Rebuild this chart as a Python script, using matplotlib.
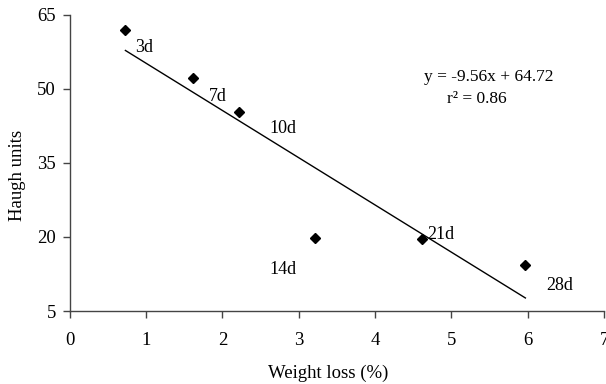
import numpy as np
import matplotlib
matplotlib.use("Agg")
import matplotlib.pyplot as plt

# Data
weight_loss = [0.73, 1.62, 2.22, 3.21, 4.62, 5.97]
haugh_units = [61.8, 52.2, 45.3, 19.8, 19.6, 14.3]
day_labels = ["3d", "7d", "10d", "14d", "21d", "28d"]
label_x = [0.86, 1.82, 2.62, 2.62, 4.69, 6.24]
label_y = [58.3, 48.4, 42.0, 13.5, 20.5, 10.1]

slope = -9.56
intercept = 64.72
r2 = 0.86

plt.rcParams['font.family'] = ['Liberation Serif', 'DejaVu Serif']
plt.rcParams['font.size'] = 13

fig = plt.figure(figsize=(6.06, 3.84), dpi=100)
ax = fig.add_axes([0.115, 0.19, 0.8817, 0.772])

ax.plot(weight_loss, haugh_units, linestyle='none', marker='D',
        markersize=4.8, color='black', clip_on=False)

# trend line over the data range
xl = np.array([min(weight_loss), max(weight_loss)])
ax.plot(xl, slope * xl + intercept, color='black', linewidth=1.0)

for lx, ly, t in zip(label_x, label_y, day_labels):
    ax.text(lx, ly, t, ha='left', va='center', fontsize=13)

ax.text(5.49, 52.3, f"y = {slope:.2f}x + {intercept:.2f}", ha='center', va='center', fontsize=12.5)
ax.text(5.33, 47.9, f"r² = {r2:.2f}", ha='center', va='center', fontsize=12.5)

ax.set_xlim(0, 7)
ax.set_ylim(5, 65)
ax.set_xticks(range(0, 8))
ax.set_yticks([5, 20, 35, 50, 65])
ax.set_xlabel("Weight loss (%)", fontsize=13.5, va='center')
ax.set_ylabel("Haugh units", fontsize=13.5, va='center')
ax.xaxis.set_label_coords(0.484, -0.209)
ax.yaxis.set_label_coords(-0.098, 0.456)

for s in ['top', 'right']:
    ax.spines[s].set_visible(False)
for s in ['left', 'bottom']:
    ax.spines[s].set_color('#444444')
    ax.spines[s].set_linewidth(1.0)
ax.tick_params(direction='out', length=5, width=1.0, color='#444444',
               labelsize=13.5)
ax.tick_params(axis='x', pad=10)
ax.tick_params(axis='y', pad=5)

fig.savefig("out.png", dpi=100)
